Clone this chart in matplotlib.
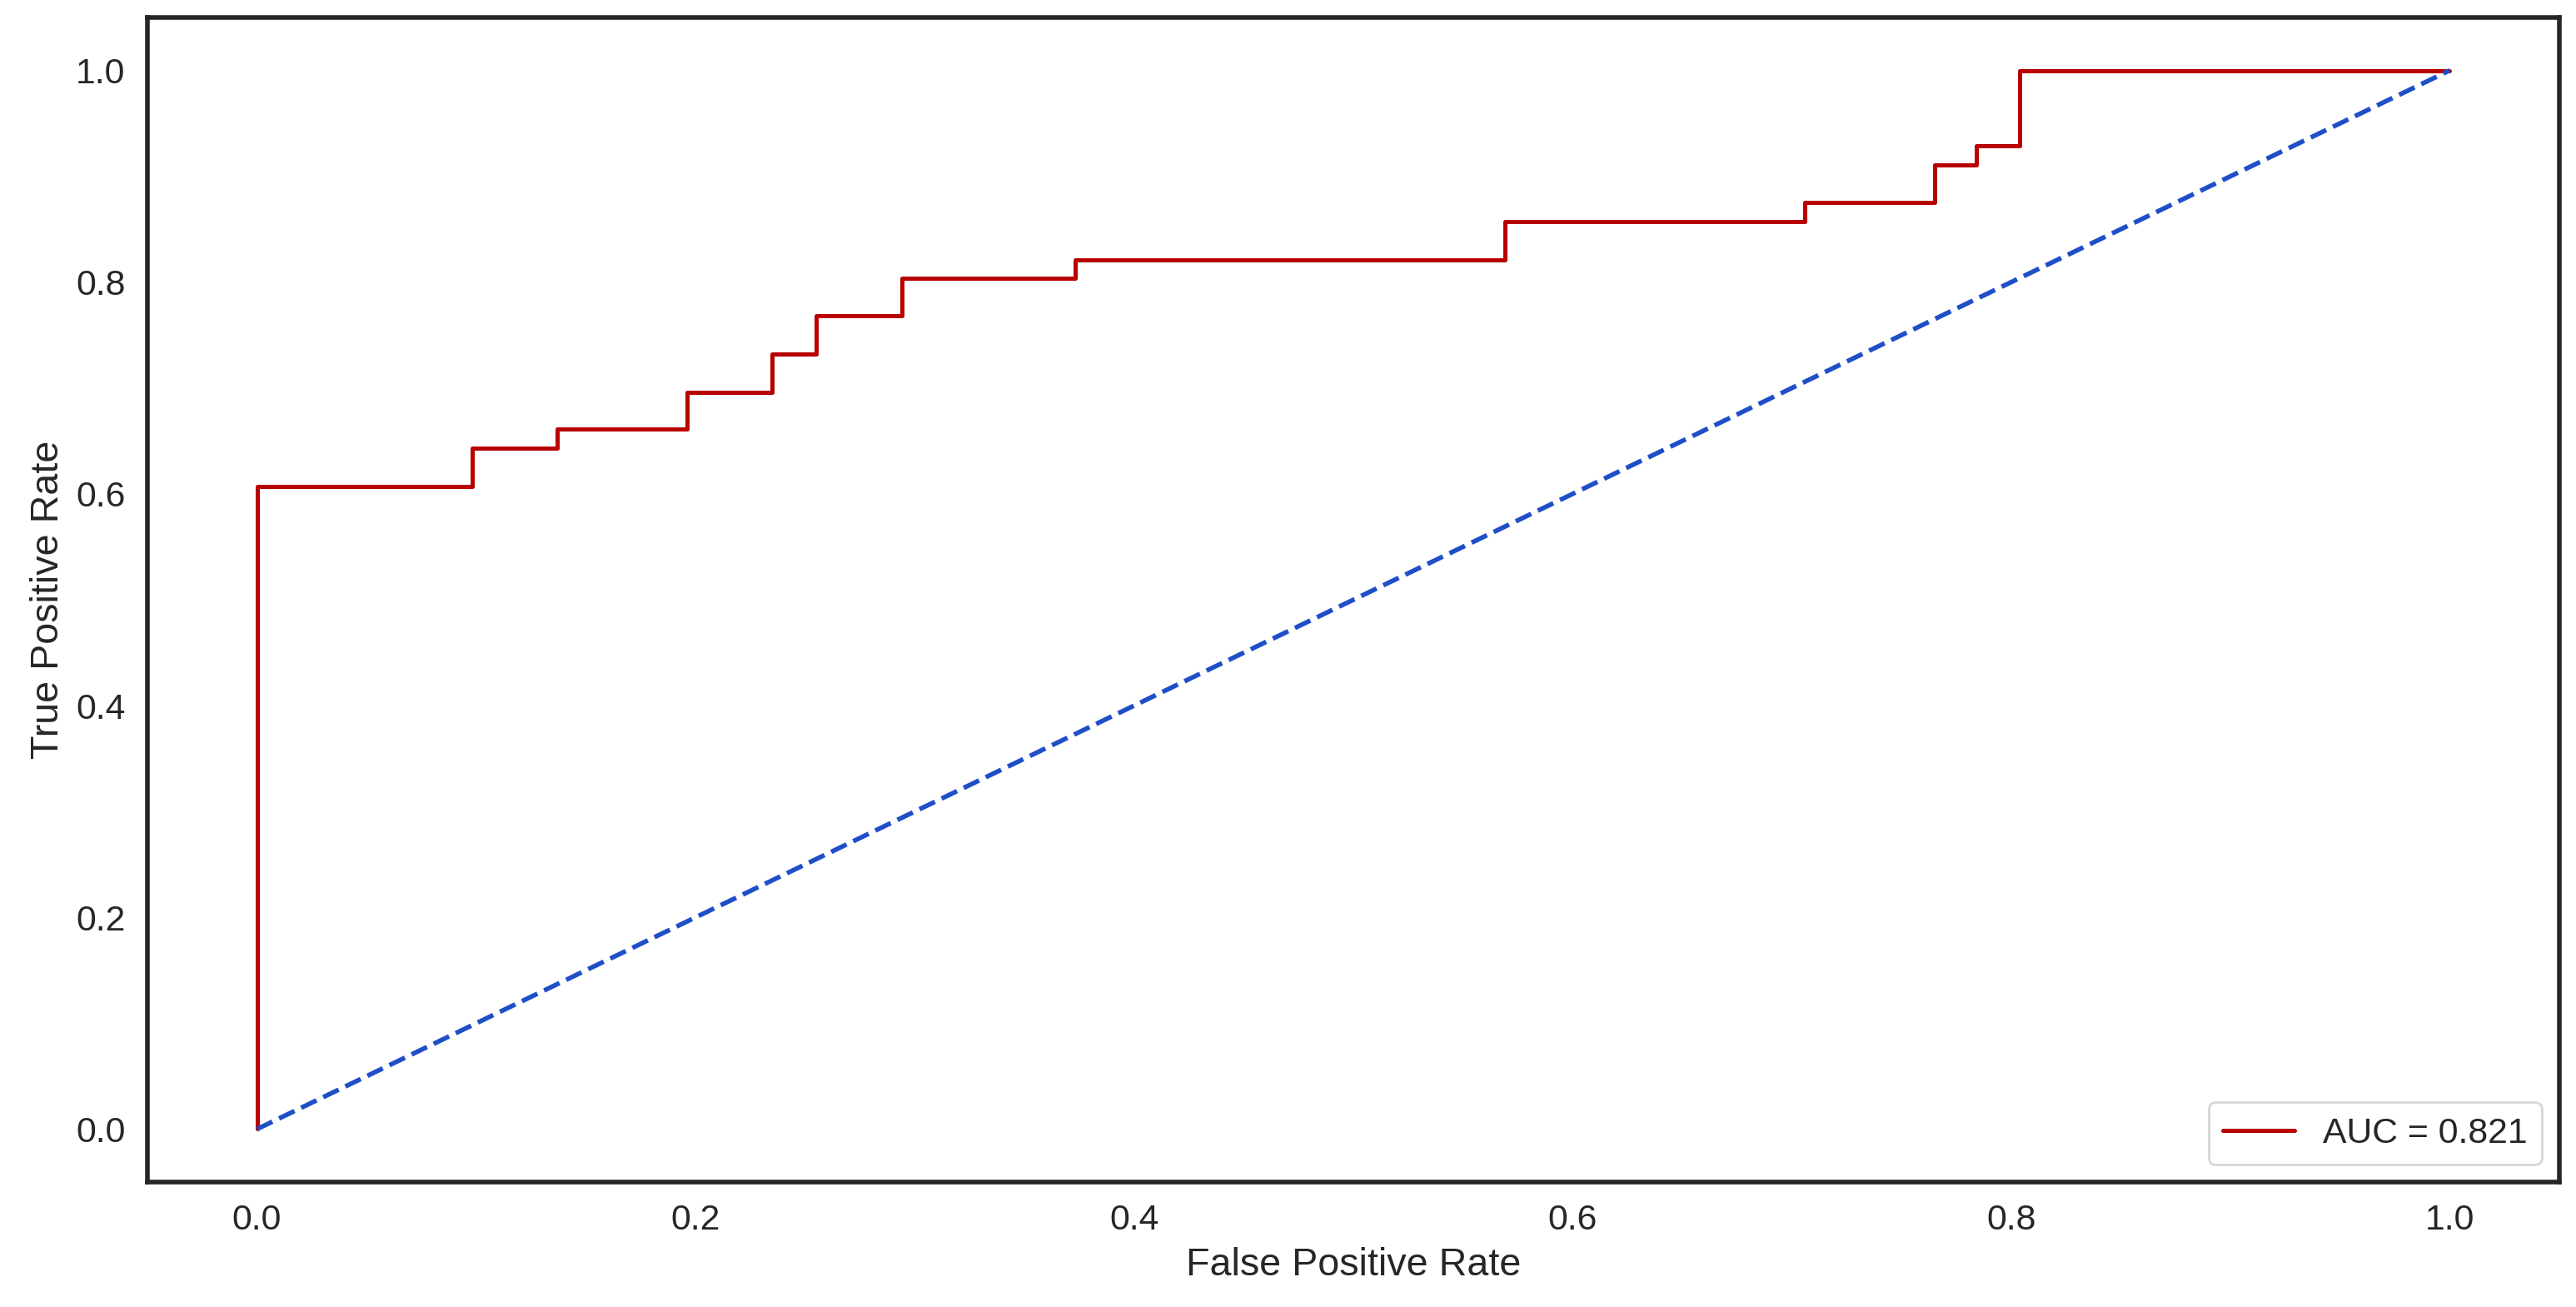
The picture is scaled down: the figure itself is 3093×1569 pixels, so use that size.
import numpy as np
import seaborn as sns
from matplotlib import pyplot as plt

# ROC curve corner points
fpr = [0.0, 0.0, 0.098, 0.098, 0.137, 0.137, 0.196, 0.196, 0.235, 0.235,
       0.255, 0.255, 0.294, 0.294, 0.373, 0.373, 0.569, 0.569, 0.706, 0.706,
       0.765, 0.765, 0.784, 0.784, 0.804, 0.804, 1.0]
tpr = [0.0, 0.607, 0.607, 0.643, 0.643, 0.661, 0.661, 0.696, 0.696, 0.732,
       0.732, 0.768, 0.768, 0.804, 0.804, 0.821, 0.821, 0.857, 0.857, 0.875,
       0.875, 0.911, 0.911, 0.929, 0.929, 1.0, 1.0]
chance = [0.0, 1.0]
auc_value = 0.821

sns.set_theme(style='white', font_scale=1.4)
plt.rcParams['font.family'] = ['Liberation Sans', 'DejaVu Sans']

fig = plt.figure(figsize=(15.465, 7.845), dpi=200)
ax = fig.add_axes([0.0572, 0.0956, 0.9363, 0.891])

ax.plot(fpr, tpr, color='#b80000', lw=1.8, label=f'AUC = {auc_value:.3f}')
ax.plot(chance, chance, color='#1f4fc8', lw=2.0, linestyle='--')

ax.set_xlabel('False Positive Rate')
ax.set_ylabel('True Positive Rate')
ax.set_xticks([0.0, 0.2, 0.4, 0.6, 0.8, 1.0])
ax.set_yticks([0.0, 0.2, 0.4, 0.6, 0.8, 1.0])

for spine in ax.spines.values():
    spine.set_linewidth(2.0)
    spine.set_color('#262626')

ax.legend(loc='lower right')

plt.savefig('out.png', dpi=200)
